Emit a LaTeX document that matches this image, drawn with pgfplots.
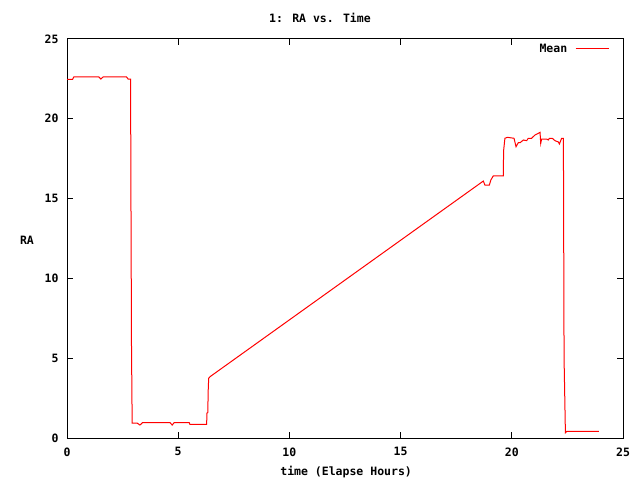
\documentclass[border=0pt]{standalone}
\usepackage{pgfplots}
\pgfplotsset{compat=1.18}
\usepackage{fontspec}
\setmainfont{DejaVu Sans Mono}
\begin{document}
\begin{tikzpicture}[x=1pt,y=1pt]
\useasboundingbox (0,0) rectangle (640,480);
\begin{axis}[
  at={(67pt,42pt)}, anchor=south west,
  scale only axis, width=556pt, height=399pt,
  xmin=0, xmax=25, ymin=0, ymax=25,
  xtick={0,5,10,15,20,25}, ytick={0,5,10,15,20,25},
  minor tick num=0,
  major tick length=6pt,
  tick style={black, line width=1pt},
  axis line style={black, line width=1pt},
  /pgf/number format/assume math mode=true,
  font=\fontsize{11.5}{13}\selectfont\bfseries,
  ticklabel style={font=\fontsize{11.5}{13}\selectfont\bfseries},
  yticklabel style={xshift=-5pt},
  xticklabel style={yshift=-6pt},
  title={1: RA vs. Time},
  title style={at={(axis description cs:0.455,1.038)}, anchor=center},
  xlabel={time (Elapse Hours)},
  xlabel style={at={(axis description cs:0.502,-0.085)}, anchor=center},
  ylabel={RA},
  ylabel style={at={(axis description cs:-0.072,0.496)}, anchor=center, rotate=-90},
  legend style={draw=none, fill=none, at={(axis description cs:0.981,0.975)}, anchor=east,
    font=\fontsize{11.5}{13}\selectfont\bfseries},
  legend plot pos=right,
  legend cell align=right,
  legend image code/.code={\path (0pt,0pt); \draw[#1] (6pt,0pt) -- (39pt,0pt);},
]
\addplot[red, line width=1pt, mark=none] coordinates {
(0,22.47) (0.25,22.47) (0.31,22.63) (1.43,22.63) (1.52,22.49) (1.63,22.63)
(2.67,22.63) (2.75,22.49) (2.86,22.49) (2.87,17.1) (2.90,5.8) (2.93,0.93)
(3.16,0.93) (3.28,0.81) (3.40,0.97) (4.63,0.97) (4.73,0.81) (4.82,0.97)
(5.49,0.97) (5.53,0.85) (6.28,0.85) (6.29,1.55) (6.33,1.6) (6.35,3.0)
(6.37,3.74) (6.43,3.84) (18.72,16.1) (18.79,15.85) (18.99,15.85) (19.06,16.17)
(19.17,16.43) (19.62,16.43) (19.63,17.98) (19.69,18.78) (19.80,18.84) (20.10,18.78)
(20.19,18.25) (20.29,18.5) (20.37,18.5) (20.52,18.67) (20.67,18.63) (20.74,18.78)
(20.89,18.78) (21.04,18.98) (21.19,19.09) (21.27,19.15) (21.30,18.46) (21.34,18.73)
(21.57,18.73) (21.64,18.67) (21.69,18.78) (21.82,18.78) (21.94,18.63) (22.09,18.55)
(22.14,18.42) (22.24,18.78) (22.32,18.78) (22.33,14.18) (22.35,5.0) (22.41,0.33)
(22.47,0.42) (23.92,0.42)
};
\addlegendentry{Mean}
\end{axis}
\end{tikzpicture}
\end{document}
